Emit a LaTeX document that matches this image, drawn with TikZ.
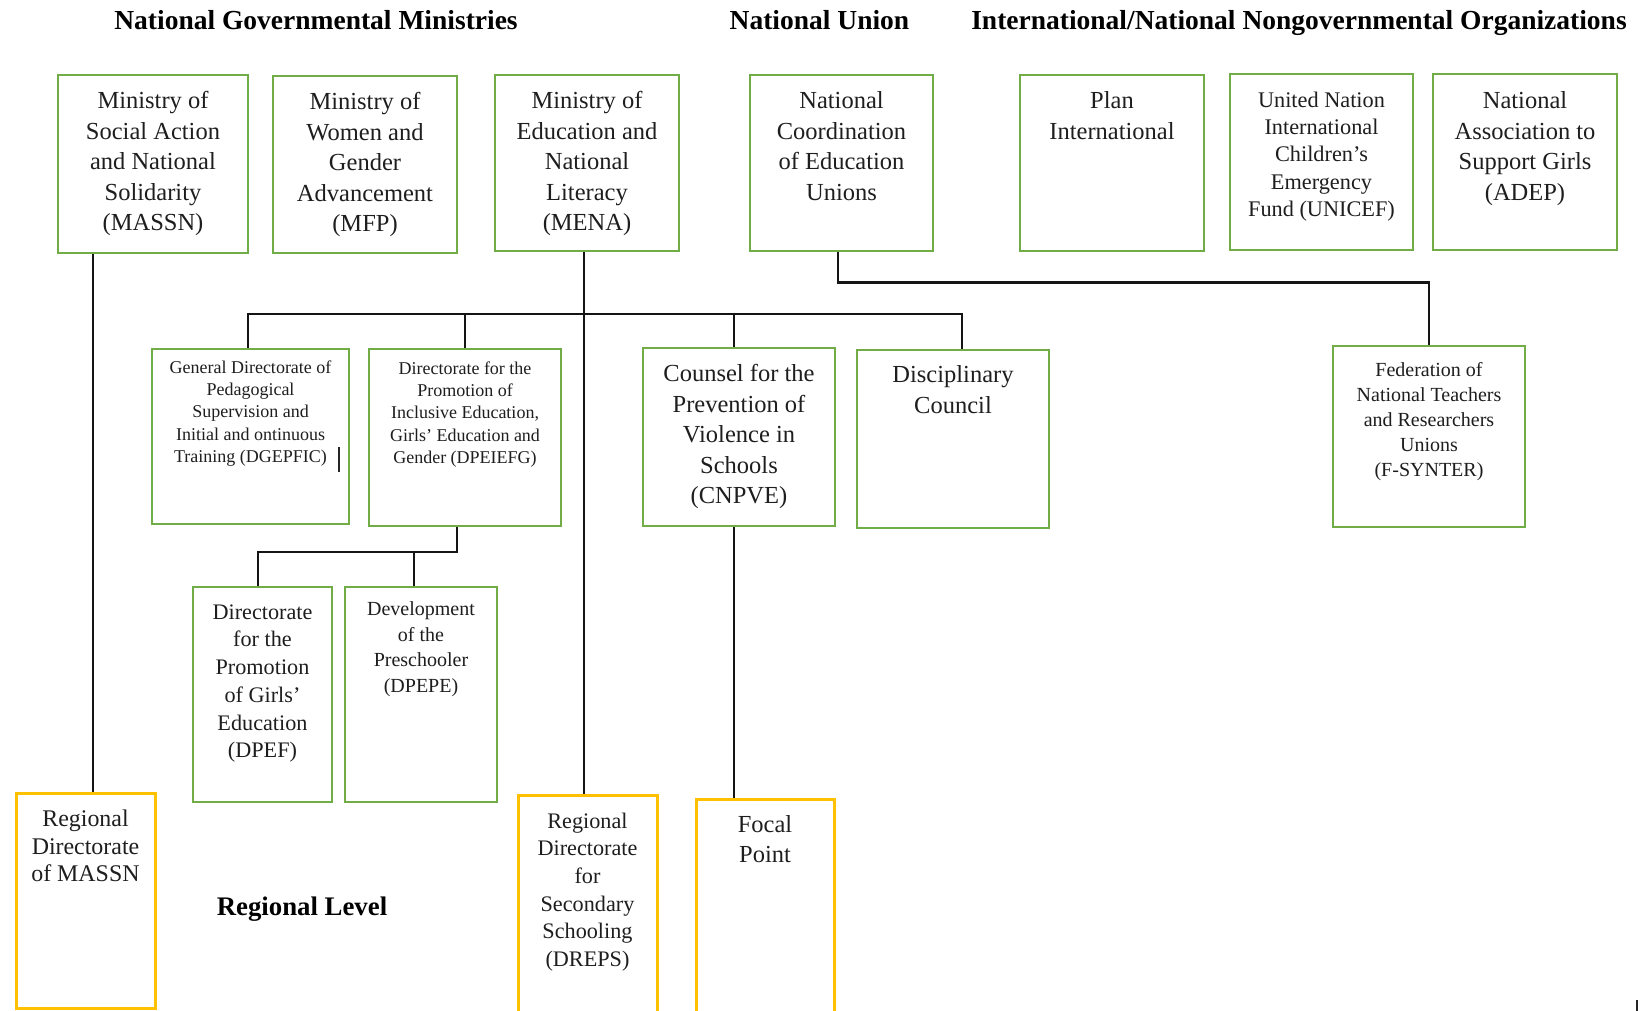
\documentclass[tikz,border=0pt]{standalone}
\usepackage{fontspec}
\setmainfont{Liberation Serif}
\definecolor{gbord}{HTML}{70AD47}
\definecolor{ybord}{HTML}{FFC000}
\definecolor{txtc}{HTML}{1E1E1E}
\tikzset{
  gbox/.style={draw=gbord, line width=2.6pt, rectangle, inner sep=0pt, fill=white},
  ybox/.style={draw=ybord, line width=3pt, rectangle, inner sep=0pt, fill=white},
  conn/.style={draw=black!92, line width=2.6pt, line join=miter},
  lbl/.style={anchor=base, inner sep=0pt, text=txtc},
  ttl/.style={anchor=base, inner sep=0pt, text=black, font=\bfseries\fontsize{27.5pt}{33pt}\selectfont},
  fA/.style={font=\fontsize{24.5pt}{30.5pt}\selectfont},
  fU/.style={font=\fontsize{22.3pt}{27.4pt}\selectfont},
  fS/.style={font=\fontsize{18pt}{22.3pt}\selectfont},
  fF/.style={font=\fontsize{20pt}{25pt}\selectfont},
  fD/.style={font=\fontsize{22.2pt}{27.7pt}\selectfont},
  fP/.style={font=\fontsize{20pt}{25.5pt}\selectfont},
  fR/.style={font=\fontsize{23.9pt}{27.5pt}\selectfont},
}
\newcommand\mkbox[6]{\node[#6, minimum width={(#4-#2)*1pt}, minimum height={(#5-#3)*1pt}] (#1) at ({(#2+#4)/2},{(#3+#5)/2}) {};}
\newcommand\mktext[5]{\node[lbl, #3] (#1) at ([yshift=-#4pt]#2.north) {\parbox[t]{300pt}{\centering #5}};}
\begin{document}
\begin{tikzpicture}[x=1pt, y=-1pt]
\path[use as bounding box, fill=white] (0,0) rectangle (1652,1011);

% titles
\node[ttl] (t1) at (316,30) {National Governmental Ministries};
\node[ttl] (t2) at (819.5,30) {National Union};
\node[ttl] (t3) at (1299,30) {International/National Nongovernmental Organizations};
\node[ttl, font=\bfseries\fontsize{26.8pt}{32pt}\selectfont] (t4) at (302,915) {Regional Level};

% boxes
\mkbox{massn}{58}{75}{248}{253}{gbox}
\mkbox{mfp}{273}{76}{457}{253}{gbox}
\mkbox{mena}{495}{75}{679}{251}{gbox}
\mkbox{natc}{750}{75}{933}{251}{gbox}
\mkbox{plan}{1020}{75}{1204}{251}{gbox}
\mkbox{unicef}{1230}{74}{1413}{250}{gbox}
\mkbox{adep}{1433}{74}{1617}{250}{gbox}
\mkbox{dgepfic}{152}{349}{349}{524}{gbox}
\mkbox{dpeiefg}{369}{349}{561}{526}{gbox}
\mkbox{cnpve}{643}{348}{835}{526}{gbox}
\mkbox{disc}{857}{350}{1049}{528}{gbox}
\mkbox{fsynter}{1333}{346}{1525}{527}{gbox}
\mkbox{dpef}{193}{587}{332}{802}{gbox}
\mkbox{dpepe}{345}{587}{497}{802}{gbox}
\mkbox{rmassn}{16}{793}{155}{1008}{ybox}
\mkbox{dreps}{518}{795}{657}{1016}{ybox}
\mkbox{focal}{696}{799}{834}{1016}{ybox}

% texts
\mktext{massnT}{massn}{fA}{35}{Ministry of\\Social Action\\and National\\Solidarity\\(MASSN)}
\mktext{mfpT}{mfp}{fA}{35}{Ministry of\\Women and\\Gender\\Advancement\\(MFP)}
\mktext{menaT}{mena}{fA}{35}{Ministry of\\Education and\\National\\Literacy\\(MENA)}
\mktext{natcT}{natc}{fA}{35}{National\\Coordination\\of Education\\Unions}
\mktext{planT}{plan}{fA}{35}{Plan\\International}
\mktext{unicefT}{unicef}{fU}{34.5}{United Nation\\International\\Children’s\\Emergency\\Fund (UNICEF)}
\mktext{adepT}{adep}{fA}{36}{National\\Association to\\Support Girls\\(ADEP)}
\mktext{dgepficT}{dgepfic}{fS}{25.5}{General Directorate of\\Pedagogical\\Supervision and\\Initial and ontinuous\\Training (DGEPFIC)}
\mktext{dpeiefgT}{dpeiefg}{fS}{26.5}{Directorate for the\\Promotion of\\Inclusive Education,\\Girls’ Education and\\Gender (DPEIEFG)}
\mktext{cnpveT}{cnpve}{fA}{35}{Counsel for the\\Prevention of\\Violence in\\Schools\\(CNPVE)}
\mktext{discT}{disc}{fA}{34}{Disciplinary\\Council}
\mktext{fsynterT}{fsynter}{fF}{31.5}{Federation of\\National Teachers\\and Researchers\\Unions\\(F-SYNTER)}
\mktext{dpefT}{dpef}{fD}{33.5}{Directorate\\for the\\Promotion\\of Girls’\\Education\\(DPEF)}
\mktext{dpepeT}{dpepe}{fP}{30}{Development\\of the\\Preschooler\\(DPEPE)}
\mktext{rmassnT}{rmassn}{fR}{35}{Regional\\Directorate\\of MASSN}
\mktext{drepsT}{dreps}{fD}{34.5}{Regional\\Directorate\\for\\Secondary\\Schooling\\(DREPS)}
\mktext{focalT}{focal}{fA}{34.5}{Focal\\Point}

% helper coordinates
\coordinate (cm) at (93,0);
\coordinate (cme) at (584,0);
\coordinate (bus) at (0,314);
\coordinate (cg) at (248,0);
\coordinate (cd) at (962,0);
\coordinate (cc) at (734,0);
\coordinate (cn) at (838,0);
\coordinate (dj) at (457,552);
\coordinate (cf) at (258,0);
\coordinate (cp) at (414,0);

% connectors
\draw[conn] (massn.south -| cm) -- (rmassn.north -| cm);
\draw[conn] (mena.south -| cme) -- (dreps.north -| cme);
\draw[conn] (dgepfic.north -| cg) -- (bus -| cg) -- (bus -| cd) -- (disc.north -| cd);
\draw[conn] (dpeiefg.north) -- (bus -| dpeiefg.north);
\draw[conn] (cnpve.north -| cc) -- (bus -| cc);
\draw[conn] (cnpve.south -| cc) -- (focal.north -| cc);
\draw[conn] (natc.south -| cn) -- ++(0,30) -| (fsynter.north);
\draw[conn] (dpeiefg.south -| dj) -- (dj) -- (dj -| cf) -- (dpef.north -| cf);
\draw[conn] (dpepe.north -| cp) -- (dj -| cp);

% stray marks
\coordinate (s1) at (339,447);
\coordinate (s2) at (339,472);
\draw[line width=1.6pt, black!85] (s1) -- (s2);
\coordinate (s3) at (1637,1000);
\coordinate (s4) at (1637,1011);
\draw[line width=1.6pt, black!85] (s3) -- (s4);
\end{tikzpicture}
\end{document}
